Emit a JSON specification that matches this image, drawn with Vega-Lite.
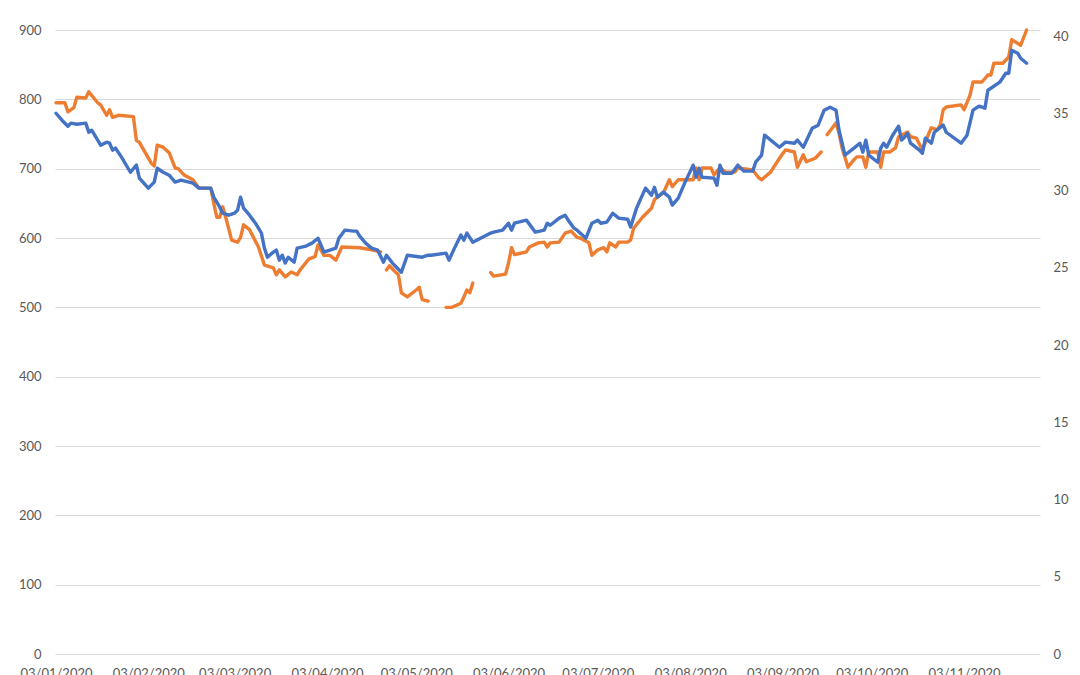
{
  "$schema": "https://vega.github.io/schema/vega-lite/v6.json",
  "width": 985,
  "height": 624,
  "autosize": {"type": "none"},
  "padding": {"left": 55, "top": 30, "right": 40, "bottom": 21},
  "background": "white",
  "config": {
    "view": {"stroke": null},
    "font": "Lato",
    "axis": {"labelFont": "Lato", "labelFontSize": 13, "labelColor": "#595959", "ticks": false, "tickSize": 0, "domain": false, "labelPadding": 13, "title": null}
  },
  "datasets": {
    "orange": [
      {"date": "2020-01-03", "value": 795}, {"date": "2020-01-06", "value": 795}, {"date": "2020-01-07", "value": 782}, {"date": "2020-01-09", "value": 788},
      {"date": "2020-01-10", "value": 803}, {"date": "2020-01-13", "value": 802}, {"date": "2020-01-14", "value": 811}, {"date": "2020-01-17", "value": 795},
      {"date": "2020-01-18", "value": 792}, {"date": "2020-01-20", "value": 777}, {"date": "2020-01-21", "value": 785}, {"date": "2020-01-22", "value": 774},
      {"date": "2020-01-24", "value": 777}, {"date": "2020-01-29", "value": 775}, {"date": "2020-01-30", "value": 741}, {"date": "2020-01-31", "value": 738},
      {"date": "2020-02-04", "value": 708}, {"date": "2020-02-05", "value": 704}, {"date": "2020-02-06", "value": 734}, {"date": "2020-02-08", "value": 731},
      {"date": "2020-02-10", "value": 723}, {"date": "2020-02-12", "value": 701}, {"date": "2020-02-13", "value": 700}, {"date": "2020-02-15", "value": 691},
      {"date": "2020-02-18", "value": 684}, {"date": "2020-02-20", "value": 672}, {"date": "2020-02-24", "value": 672}, {"date": "2020-02-25", "value": 650},
      {"date": "2020-02-26", "value": 630}, {"date": "2020-02-27", "value": 630}, {"date": "2020-02-28", "value": 645}, {"date": "2020-02-29", "value": 630},
      {"date": "2020-03-02", "value": 597}, {"date": "2020-03-04", "value": 594}, {"date": "2020-03-05", "value": 601}, {"date": "2020-03-06", "value": 619},
      {"date": "2020-03-08", "value": 612}, {"date": "2020-03-11", "value": 587}, {"date": "2020-03-13", "value": 561}, {"date": "2020-03-16", "value": 557},
      {"date": "2020-03-17", "value": 547}, {"date": "2020-03-18", "value": 554}, {"date": "2020-03-20", "value": 544}, {"date": "2020-03-22", "value": 551},
      {"date": "2020-03-24", "value": 547}, {"date": "2020-03-25", "value": 554}, {"date": "2020-03-28", "value": 570}, {"date": "2020-03-30", "value": 573},
      {"date": "2020-03-31", "value": 590}, {"date": "2020-04-02", "value": 575}, {"date": "2020-04-04", "value": 575}, {"date": "2020-04-06", "value": 568},
      {"date": "2020-04-08", "value": 587}, {"date": "2020-04-14", "value": 586}, {"date": "2020-04-18", "value": 583}, {"date": "2020-04-21", "value": 580},
      {"date": "2020-04-22", "value": null},
      {"date": "2020-04-23", "value": 554}, {"date": "2020-04-24", "value": 560}, {"date": "2020-04-26", "value": 551}, {"date": "2020-04-27", "value": 547},
      {"date": "2020-04-28", "value": 521}, {"date": "2020-04-30", "value": 515}, {"date": "2020-05-03", "value": 525}, {"date": "2020-05-04", "value": 529},
      {"date": "2020-05-05", "value": 511}, {"date": "2020-05-07", "value": 509},
      {"date": "2020-05-10", "value": null},
      {"date": "2020-05-13", "value": 500}, {"date": "2020-05-15", "value": 500}, {"date": "2020-05-18", "value": 506}, {"date": "2020-05-19", "value": 515},
      {"date": "2020-05-20", "value": 525}, {"date": "2020-05-21", "value": 521}, {"date": "2020-05-22", "value": 535},
      {"date": "2020-05-25", "value": null},
      {"date": "2020-05-28", "value": 550}, {"date": "2020-05-29", "value": 545}, {"date": "2020-06-02", "value": 548}, {"date": "2020-06-03", "value": 564},
      {"date": "2020-06-04", "value": 586}, {"date": "2020-06-05", "value": 576}, {"date": "2020-06-07", "value": 578}, {"date": "2020-06-09", "value": 580},
      {"date": "2020-06-10", "value": 587}, {"date": "2020-06-13", "value": 593}, {"date": "2020-06-15", "value": 594}, {"date": "2020-06-16", "value": 587},
      {"date": "2020-06-17", "value": 593}, {"date": "2020-06-20", "value": 594}, {"date": "2020-06-22", "value": 607}, {"date": "2020-06-24", "value": 610},
      {"date": "2020-06-26", "value": 601}, {"date": "2020-06-27", "value": 600}, {"date": "2020-06-30", "value": 593}, {"date": "2020-07-01", "value": 575},
      {"date": "2020-07-03", "value": 583}, {"date": "2020-07-05", "value": 586}, {"date": "2020-07-06", "value": 580}, {"date": "2020-07-07", "value": 593},
      {"date": "2020-07-09", "value": 587}, {"date": "2020-07-10", "value": 594}, {"date": "2020-07-13", "value": 594}, {"date": "2020-07-14", "value": 597},
      {"date": "2020-07-15", "value": 614}, {"date": "2020-07-18", "value": 630}, {"date": "2020-07-21", "value": 643}, {"date": "2020-07-22", "value": 655},
      {"date": "2020-07-23", "value": 659}, {"date": "2020-07-25", "value": 665}, {"date": "2020-07-27", "value": 684}, {"date": "2020-07-28", "value": 674},
      {"date": "2020-07-30", "value": 684}, {"date": "2020-08-01", "value": 684}, {"date": "2020-08-04", "value": 684}, {"date": "2020-08-05", "value": 701},
      {"date": "2020-08-06", "value": 684}, {"date": "2020-08-07", "value": 701}, {"date": "2020-08-10", "value": 701}, {"date": "2020-08-11", "value": 691},
      {"date": "2020-08-13", "value": 701}, {"date": "2020-08-15", "value": 695}, {"date": "2020-08-18", "value": 695}, {"date": "2020-08-19", "value": 701},
      {"date": "2020-08-24", "value": 698}, {"date": "2020-08-26", "value": 687}, {"date": "2020-08-27", "value": 684}, {"date": "2020-08-30", "value": 695},
      {"date": "2020-09-02", "value": 715}, {"date": "2020-09-04", "value": 727}, {"date": "2020-09-07", "value": 724}, {"date": "2020-09-08", "value": 702},
      {"date": "2020-09-10", "value": 720}, {"date": "2020-09-11", "value": 710}, {"date": "2020-09-14", "value": 715}, {"date": "2020-09-16", "value": 724},
      {"date": "2020-09-17", "value": null},
      {"date": "2020-09-18", "value": 749}, {"date": "2020-09-21", "value": 766}, {"date": "2020-09-22", "value": 751}, {"date": "2020-09-23", "value": 730},
      {"date": "2020-09-25", "value": 702}, {"date": "2020-09-27", "value": 713}, {"date": "2020-09-28", "value": 717}, {"date": "2020-09-30", "value": 717},
      {"date": "2020-10-01", "value": 702}, {"date": "2020-10-02", "value": 724}, {"date": "2020-10-05", "value": 724}, {"date": "2020-10-06", "value": 702},
      {"date": "2020-10-07", "value": 724}, {"date": "2020-10-09", "value": 724}, {"date": "2020-10-11", "value": 730}, {"date": "2020-10-12", "value": 746},
      {"date": "2020-10-15", "value": 753}, {"date": "2020-10-16", "value": 746}, {"date": "2020-10-18", "value": 744}, {"date": "2020-10-20", "value": 727},
      {"date": "2020-10-22", "value": 749}, {"date": "2020-10-23", "value": 759}, {"date": "2020-10-25", "value": 756}, {"date": "2020-10-26", "value": 763},
      {"date": "2020-10-27", "value": 785}, {"date": "2020-10-28", "value": 789}, {"date": "2020-11-02", "value": 792}, {"date": "2020-11-03", "value": 785},
      {"date": "2020-11-05", "value": 806}, {"date": "2020-11-06", "value": 825}, {"date": "2020-11-09", "value": 825}, {"date": "2020-11-11", "value": 835},
      {"date": "2020-11-12", "value": 835}, {"date": "2020-11-13", "value": 852}, {"date": "2020-11-16", "value": 852}, {"date": "2020-11-18", "value": 861},
      {"date": "2020-11-19", "value": 886}, {"date": "2020-11-22", "value": 878}, {"date": "2020-11-24", "value": 900}
    ],
    "blue": [
      {"date": "2020-01-03", "value": 35.01}, {"date": "2020-01-05", "value": 34.56}, {"date": "2020-01-07", "value": 34.17}, {"date": "2020-01-08", "value": 34.37},
      {"date": "2020-01-10", "value": 34.30}, {"date": "2020-01-13", "value": 34.37}, {"date": "2020-01-14", "value": 33.78}, {"date": "2020-01-15", "value": 33.91},
      {"date": "2020-01-17", "value": 33.27}, {"date": "2020-01-18", "value": 32.94}, {"date": "2020-01-20", "value": 33.14}, {"date": "2020-01-21", "value": 33.07},
      {"date": "2020-01-22", "value": 32.62}, {"date": "2020-01-23", "value": 32.75}, {"date": "2020-01-25", "value": 32.17}, {"date": "2020-01-28", "value": 31.19},
      {"date": "2020-01-30", "value": 31.65}, {"date": "2020-01-31", "value": 30.81}, {"date": "2020-02-03", "value": 30.16}, {"date": "2020-02-05", "value": 30.55},
      {"date": "2020-02-06", "value": 31.45}, {"date": "2020-02-08", "value": 31.19}, {"date": "2020-02-10", "value": 31.00}, {"date": "2020-02-12", "value": 30.55},
      {"date": "2020-02-14", "value": 30.68}, {"date": "2020-02-18", "value": 30.48}, {"date": "2020-02-20", "value": 30.16}, {"date": "2020-02-24", "value": 30.16},
      {"date": "2020-02-25", "value": 29.58}, {"date": "2020-02-27", "value": 28.93}, {"date": "2020-02-28", "value": 28.54}, {"date": "2020-03-01", "value": 28.41},
      {"date": "2020-03-03", "value": 28.54}, {"date": "2020-03-04", "value": 28.74}, {"date": "2020-03-05", "value": 29.58}, {"date": "2020-03-06", "value": 28.87},
      {"date": "2020-03-08", "value": 28.41}, {"date": "2020-03-10", "value": 27.89}, {"date": "2020-03-12", "value": 27.25}, {"date": "2020-03-13", "value": 26.28},
      {"date": "2020-03-14", "value": 25.69}, {"date": "2020-03-16", "value": 26.02}, {"date": "2020-03-17", "value": 26.15}, {"date": "2020-03-18", "value": 25.50},
      {"date": "2020-03-19", "value": 25.82}, {"date": "2020-03-20", "value": 25.31}, {"date": "2020-03-21", "value": 25.69}, {"date": "2020-03-23", "value": 25.37},
      {"date": "2020-03-24", "value": 26.28}, {"date": "2020-03-27", "value": 26.41}, {"date": "2020-03-29", "value": 26.60}, {"date": "2020-03-31", "value": 26.92},
      {"date": "2020-04-02", "value": 26.02}, {"date": "2020-04-04", "value": 26.15}, {"date": "2020-04-06", "value": 26.28}, {"date": "2020-04-07", "value": 26.92},
      {"date": "2020-04-09", "value": 27.44}, {"date": "2020-04-12", "value": 27.38}, {"date": "2020-04-13", "value": 27.38}, {"date": "2020-04-14", "value": 27.05},
      {"date": "2020-04-16", "value": 26.60}, {"date": "2020-04-18", "value": 26.28}, {"date": "2020-04-20", "value": 26.15}, {"date": "2020-04-22", "value": 25.37},
      {"date": "2020-04-23", "value": 25.82}, {"date": "2020-04-25", "value": 25.31}, {"date": "2020-04-28", "value": 24.72}, {"date": "2020-04-30", "value": 25.82},
      {"date": "2020-05-05", "value": 25.69}, {"date": "2020-05-07", "value": 25.82}, {"date": "2020-05-08", "value": 25.82}, {"date": "2020-05-13", "value": 25.95},
      {"date": "2020-05-14", "value": 25.50}, {"date": "2020-05-16", "value": 26.34}, {"date": "2020-05-18", "value": 27.12}, {"date": "2020-05-19", "value": 26.79},
      {"date": "2020-05-20", "value": 27.25}, {"date": "2020-05-22", "value": 26.66}, {"date": "2020-05-28", "value": 27.25}, {"date": "2020-05-29", "value": 27.31},
      {"date": "2020-06-01", "value": 27.44}, {"date": "2020-06-03", "value": 27.89}, {"date": "2020-06-04", "value": 27.44}, {"date": "2020-06-05", "value": 27.89},
      {"date": "2020-06-09", "value": 28.09}, {"date": "2020-06-12", "value": 27.31}, {"date": "2020-06-15", "value": 27.44}, {"date": "2020-06-16", "value": 27.89},
      {"date": "2020-06-17", "value": 27.76}, {"date": "2020-06-20", "value": 28.22}, {"date": "2020-06-22", "value": 28.41}, {"date": "2020-06-23", "value": 28.09},
      {"date": "2020-06-25", "value": 27.57}, {"date": "2020-06-26", "value": 27.44}, {"date": "2020-06-29", "value": 26.92}, {"date": "2020-07-01", "value": 27.89},
      {"date": "2020-07-03", "value": 28.09}, {"date": "2020-07-04", "value": 27.89}, {"date": "2020-07-06", "value": 27.96}, {"date": "2020-07-08", "value": 28.54},
      {"date": "2020-07-10", "value": 28.22}, {"date": "2020-07-13", "value": 28.15}, {"date": "2020-07-14", "value": 27.64}, {"date": "2020-07-16", "value": 28.87},
      {"date": "2020-07-19", "value": 30.16}, {"date": "2020-07-21", "value": 29.71}, {"date": "2020-07-22", "value": 30.22}, {"date": "2020-07-23", "value": 29.58},
      {"date": "2020-07-25", "value": 29.90}, {"date": "2020-07-27", "value": 29.58}, {"date": "2020-07-28", "value": 29.06}, {"date": "2020-07-30", "value": 29.51},
      {"date": "2020-08-01", "value": 30.42}, {"date": "2020-08-04", "value": 31.65}, {"date": "2020-08-05", "value": 30.87}, {"date": "2020-08-06", "value": 31.45},
      {"date": "2020-08-07", "value": 30.87}, {"date": "2020-08-11", "value": 30.81}, {"date": "2020-08-12", "value": 30.35}, {"date": "2020-08-13", "value": 31.65},
      {"date": "2020-08-14", "value": 31.13}, {"date": "2020-08-17", "value": 31.13}, {"date": "2020-08-19", "value": 31.65}, {"date": "2020-08-21", "value": 31.26},
      {"date": "2020-08-24", "value": 31.26}, {"date": "2020-08-25", "value": 31.84}, {"date": "2020-08-27", "value": 32.30}, {"date": "2020-08-28", "value": 33.59},
      {"date": "2020-09-02", "value": 32.81}, {"date": "2020-09-04", "value": 33.14}, {"date": "2020-09-07", "value": 33.07}, {"date": "2020-09-08", "value": 33.27},
      {"date": "2020-09-10", "value": 32.81}, {"date": "2020-09-13", "value": 34.04}, {"date": "2020-09-15", "value": 34.24}, {"date": "2020-09-17", "value": 35.21},
      {"date": "2020-09-19", "value": 35.40}, {"date": "2020-09-21", "value": 35.21}, {"date": "2020-09-22", "value": 33.91}, {"date": "2020-09-24", "value": 32.30},
      {"date": "2020-09-27", "value": 32.75}, {"date": "2020-09-29", "value": 33.07}, {"date": "2020-09-30", "value": 32.49}, {"date": "2020-10-01", "value": 33.27},
      {"date": "2020-10-02", "value": 32.30}, {"date": "2020-10-05", "value": 31.84}, {"date": "2020-10-06", "value": 32.75}, {"date": "2020-10-07", "value": 33.07},
      {"date": "2020-10-08", "value": 32.81}, {"date": "2020-10-10", "value": 33.59}, {"date": "2020-10-12", "value": 34.17}, {"date": "2020-10-13", "value": 33.27},
      {"date": "2020-10-14", "value": 33.46}, {"date": "2020-10-15", "value": 33.72}, {"date": "2020-10-16", "value": 33.07}, {"date": "2020-10-19", "value": 32.62},
      {"date": "2020-10-20", "value": 32.42}, {"date": "2020-10-21", "value": 33.40}, {"date": "2020-10-23", "value": 33.07}, {"date": "2020-10-24", "value": 33.78},
      {"date": "2020-10-27", "value": 34.24}, {"date": "2020-10-28", "value": 33.78}, {"date": "2020-11-02", "value": 33.07}, {"date": "2020-11-04", "value": 33.59},
      {"date": "2020-11-06", "value": 35.21}, {"date": "2020-11-08", "value": 35.47}, {"date": "2020-11-10", "value": 35.34}, {"date": "2020-11-11", "value": 36.50},
      {"date": "2020-11-12", "value": 36.63}, {"date": "2020-11-15", "value": 37.02}, {"date": "2020-11-17", "value": 37.60}, {"date": "2020-11-18", "value": 37.60},
      {"date": "2020-11-19", "value": 39.09}, {"date": "2020-11-21", "value": 38.90}, {"date": "2020-11-22", "value": 38.57}, {"date": "2020-11-24", "value": 38.25}
    ]
  },
  "encoding": {
    "x": {
      "field": "date",
      "type": "temporal",
      "scale": {
        "type": "utc",
        "domain": [
          {"year": 2020, "month": 1, "date": 2, "hours": 16, "utc": true},
          {"year": 2020, "month": 11, "date": 28, "hours": 12, "utc": true}
        ]
      },
      "axis": {
        "values": [
          {"year": 2020, "month": 1, "date": 3, "utc": true},
          {"year": 2020, "month": 2, "date": 3, "utc": true},
          {"year": 2020, "month": 3, "date": 3, "utc": true},
          {"year": 2020, "month": 4, "date": 3, "utc": true},
          {"year": 2020, "month": 5, "date": 3, "utc": true},
          {"year": 2020, "month": 6, "date": 3, "utc": true},
          {"year": 2020, "month": 7, "date": 3, "utc": true},
          {"year": 2020, "month": 8, "date": 3, "utc": true},
          {"year": 2020, "month": 9, "date": 3, "utc": true},
          {"year": 2020, "month": 10, "date": 3, "utc": true},
          {"year": 2020, "month": 11, "date": 3, "utc": true}
        ],
        "format": "%d/%m/%Y",
        "grid": false,
        "labelFlush": false,
        "labelOverlap": false,
        "labelPadding": 13
      }
    }
  },
  "layer": [
    {
      "data": {"name": "orange"},
      "mark": {"type": "line", "color": "#ED7D31", "strokeWidth": 3.4, "strokeJoin": "round", "strokeCap": "round"},
      "encoding": {
        "y": {
          "field": "value",
          "type": "quantitative",
          "scale": {"domain": [0, 900], "nice": false, "zero": true},
          "axis": {
            "orient": "left",
            "values": [0, 100, 200, 300, 400, 500, 600, 700, 800, 900],
            "grid": true,
            "gridColor": "#d9d9d9",
            "gridWidth": 1,
            "labelPadding": 14
          }
        }
      }
    },
    {
      "data": {"name": "blue"},
      "mark": {"type": "line", "color": "#4472C4", "strokeWidth": 3.4, "strokeJoin": "round", "strokeCap": "round"},
      "encoding": {
        "y": {
          "field": "value",
          "type": "quantitative",
          "scale": {"domain": [0, 40.4], "nice": false, "zero": true},
          "axis": {
            "orient": "right",
            "values": [0, 5, 10, 15, 20, 25, 30, 35, 40],
            "grid": false,
            "labelPadding": 13
          }
        }
      }
    }
  ],
  "resolve": {"scale": {"y": "independent"}}
}
